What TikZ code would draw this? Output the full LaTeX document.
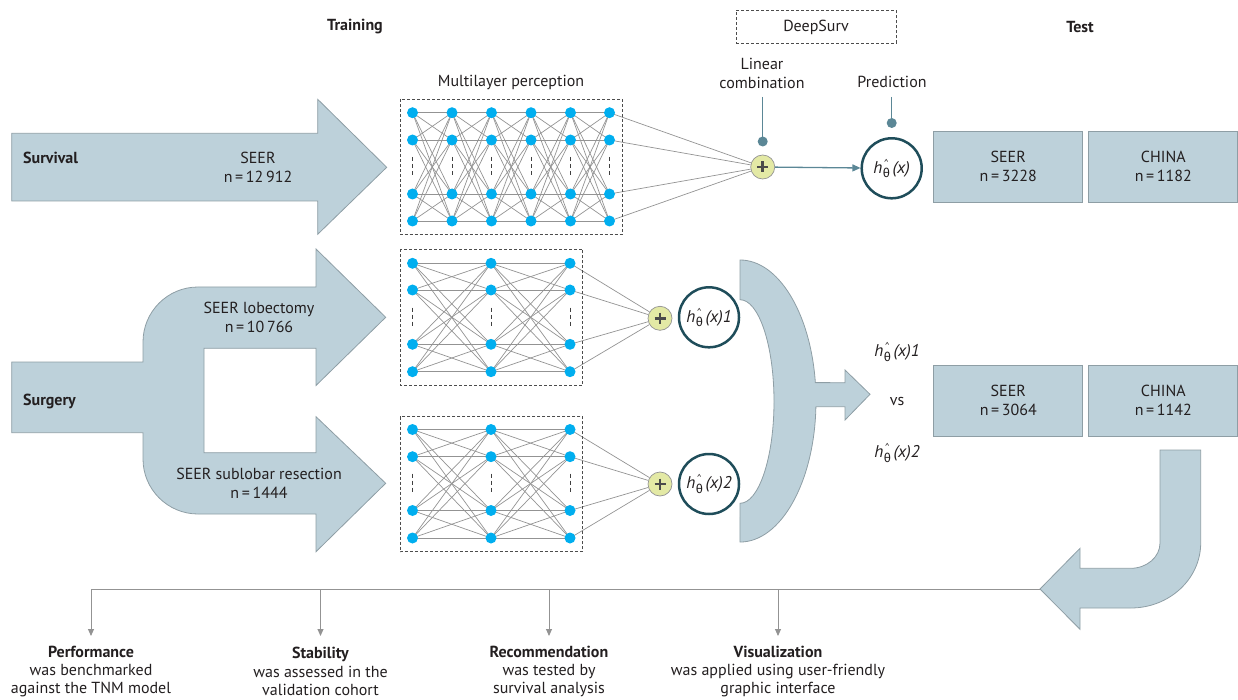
\documentclass[tikz,border=0pt]{standalone}
\usepackage{fontspec}
\setmainfont{PT Sans}
\newfontfamily\greekfont{Fira Sans}
\usetikzlibrary{arrows.meta,backgrounds}
\definecolor{arrowfill}{HTML}{BDD1DA}
\definecolor{arrowline}{HTML}{8E9EA5}
\definecolor{neuroncol}{HTML}{00AEEF}
\definecolor{conn}{HTML}{939393}
\definecolor{sumfill}{HTML}{E3E9A5}
\definecolor{darkteal}{HTML}{1F4D5A}
\definecolor{pincol}{HTML}{5B8796}
\definecolor{txt}{HTML}{231F20}
\definecolor{plusgray}{HTML}{4A4A4A}
\newcommand{\hth}[1]{{\fontsize{17}{17}\selectfont\textit{h}\kern0.5pt\rlap{\raisebox{7pt}{\fontsize{10}{10}\selectfont\kern1pt\textasciicircum}}\raisebox{-4.5pt}{\fontsize{12.5}{12.5}\selectfont\greekfont θ}\kern2.5pt\textit{(x)#1}}}
\begin{document}
\begin{tikzpicture}[x=1pt,y=-1pt,
  every node/.style={text=txt},
  font=\fontsize{16}{19}\selectfont,
  bigarrow/.style={fill=arrowfill, draw=arrowline, line width=0.8pt},
  neuron/.style={circle, fill=neuroncol, inner sep=0pt, minimum size=11pt},
  edge/.style={draw=conn, line width=0.7pt},
  dashline/.style={draw=black!75, line width=0.9pt, dash pattern=on 4pt off 3pt},
  mlpbox/.style={draw=black!70, dash pattern=on 3pt off 2pt, line width=0.8pt},
  sumnode/.style={circle, fill=sumfill, draw=conn, line width=0.7pt, minimum size=24pt, inner sep=0pt},
  outcircle/.style={circle, draw=darkteal, line width=2.5pt, minimum size=60pt, inner sep=0pt},
  testbox/.style={rectangle, fill=arrowfill, draw=arrowline, line width=0.8pt, minimum width=149pt, minimum height=71pt, align=center, inner sep=0pt},
  pinline/.style={draw=pincol, line width=1.3pt},
  gline/.style={draw=conn, line width=0.9pt},
  garrow/.style={draw=conn, line width=0.9pt, -{Triangle[width=6pt,length=7pt]}},
  plain/.style={inner sep=0pt, align=center},
  headtext/.style={inner sep=0pt, font=\fontsize{16}{19}\selectfont\bfseries},
  bottomtext/.style={inner sep=0pt, align=center, font=\fontsize{16}{18.3}\selectfont}
]
\useasboundingbox (0,0) rectangle (1238,700);

% ---------- headings ----------
\node[headtext] (training) at (355,27) {Training};
\node[plain, draw=black!70, dash pattern=on 3pt off 2pt, line width=0.8pt, minimum width=160pt, minimum height=33pt] (deepsurv) at (816,27) {DeepSurv};
\node[headtext] (test) at (1080,27) {Test};
\node[plain] (mlptitle) at (511,82) {Multilayer perception};
\node[plain] (lincomb) at (762,73) {Linear\\combination};
\node[plain] (predtitle) at (892,82) {Prediction};

% ---------- survival arrow ----------
\draw[bigarrow] (11.7,133.3) -- (317.7,133.3) -- (317.7,99.3) -- (386.7,167.3) -- (317.7,234.3) -- (317.7,201) -- (11.7,201) -- cycle;
\node[headtext, anchor=west] (survival) at (23,158) {Survival};
\node[plain] (seer1) at (258,167) {SEER\\n\,=\,12\,912};

% ---------- surgery arrow ----------
\draw[bigarrow] (11.7,362) -- (143,362) -- (143,342) arc[start angle=180,end angle=270,radius=55] -- (316,287) -- (316,249) -- (385.7,317.3) -- (316,385.5) -- (316,348.3) -- (204,348.3) -- (204,452.7) -- (316,452.7) -- (316,416.7) -- (385.7,483.3) -- (316,551.7) -- (316,514) -- (198,514) arc[start angle=90,end angle=180,radius=55] -- (143,432.7) -- (11.7,432.7) -- cycle;
\node[headtext, anchor=west] (surgery) at (23,401) {Surgery};
\node[plain] (seerlob) at (259,317) {SEER lobectomy\\n\,=\,10\,766};
\node[plain] (seersub) at (259,483) {SEER sublobar resection\\n\,=\,1444};

% ---------- MLP 1 (top) ----------
\draw[mlpbox] (400,99) rectangle (622,234.5);
\foreach \i/\x in {1/412.5,2/452,3/491.5,4/531,5/570.5,6/609.5}{
  \foreach \j/\y in {1/112.7,2/140,3/194,4/221}{
    \node[neuron] (a-\i-\j) at (\x,\y) {};
  }
  \draw[dashline] (\x,157) -- (\x,177);
}
% ---------- MLP 2 ----------
\draw[mlpbox] (400,249) rectangle (582.5,385);
\foreach \i/\x in {1/412.5,2/491,3/570}{
  \foreach \j/\y in {1/263.3,2/290,3/344.3,4/371.7}{
    \node[neuron] (b-\i-\j) at (\x,\y) {};
  }
  \draw[dashline] (\x,307.5) -- (\x,327.5);
}
% ---------- MLP 3 ----------
\draw[mlpbox] (400,416.5) rectangle (582.5,551.7);
\foreach \i/\x in {1/412.5,2/491,3/570}{
  \foreach \j/\y in {1/429.5,2/456.7,3/510.5,4/538}{
    \node[neuron] (c-\i-\j) at (\x,\y) {};
  }
  \draw[dashline] (\x,473.5) -- (\x,493.5);
}

% ---------- sum nodes and outputs ----------
\node[sumnode] (s1) at (762.7,167) {};
\node[sumnode] (s2) at (660,318.3) {};
\node[sumnode] (s3) at (660,484) {};
\foreach \s in {s1,s2,s3}{
  \draw[plusgray, line width=2.8pt] (\s.center) ++(-5.5,0) -- ++(11,0);
  \draw[plusgray, line width=2.8pt] (\s.center) ++(0,-5.5) -- ++(0,11);
}
\node[outcircle] (c1) at (891.7,168.3) {\hth{}};
\node[outcircle] (c2) at (709,317.3) {\hth{1}};
\node[outcircle] (c3) at (709,484) {\hth{2}};

% edges on background
\begin{scope}[on background layer]
\foreach \i in {1,...,5}{
  \pgfmathtruncatemacro\k{\i+1}
  \foreach \j in {1,...,4}{
    \foreach \m in {1,...,4}{
      \draw[edge] (a-\i-\j.center) -- (a-\k-\m.center);
    }
  }
}
\foreach \i in {1,2}{
  \pgfmathtruncatemacro\k{\i+1}
  \foreach \j in {1,...,4}{
    \foreach \m in {1,...,4}{
      \draw[edge] (b-\i-\j.center) -- (b-\k-\m.center);
      \draw[edge] (c-\i-\j.center) -- (c-\k-\m.center);
    }
  }
}
\foreach \j in {1,...,4}{
  \draw[edge] (a-6-\j.center) -- (s1);
  \draw[edge] (b-3-\j.center) -- (s2);
  \draw[edge] (c-3-\j.center) -- (s3);
}
\end{scope}

% pins
\coordinate (pin1top) at (762.7,97);
\coordinate (pin1dot) at (762.7,141.5);
\coordinate (pin2top) at (891.7,97);
\coordinate (pin2dot) at (891.7,123);
\draw[pinline] (pin1top) -- (pin1dot);
\fill[pincol] (pin1dot) circle (5);
\draw[pinline] (pin2top) -- (pin2dot);
\fill[pincol] (pin2dot) circle (5);
\draw[pinline, -{Triangle[width=7pt,length=8pt]}] (s1) -- (c1);

% ---------- crescent arrow ----------
\draw[bigarrow] (740,260) arc[start angle=270,end angle=352.5,x radius=76,y radius=141] -- (845,382.7) -- (845,370) -- (870,394.3) -- (845,420) -- (845,406.7) -- (815.9,406.7) arc[start angle=2.3,end angle=90,x radius=76,y radius=141] -- (740,503.3) arc[start angle=90,end angle=-90,x radius=34,y radius=101.8] -- cycle;

\node[plain] (h1) at (897,352) {\hth{1}};
\node[plain] (vs) at (897,401) {vs};
\node[plain] (h2) at (897,453) {\hth{2}};

% ---------- test boxes ----------
\node[testbox] (seert1) at (1008.2,166.5) {SEER\\n\,=\,3228};
\node[testbox] (chinat1) at (1163.3,166.5) {CHINA\\n\,=\,1182};
\node[testbox] (seert2) at (1008.3,400.7) {SEER\\n\,=\,3064};
\node[testbox] (chinat2) at (1163.3,400.7) {CHINA\\n\,=\,1142};

% ---------- U-turn arrow ----------
\draw[bigarrow] (1160,450) -- (1200.7,450) -- (1200.7,543) arc[start angle=0,end angle=90,x radius=70,y radius=65] -- (1080,608) -- (1080,629.3) -- (1040,589) -- (1080,548.3) -- (1080,568.3) -- (1130.7,568.3) arc[start angle=90,end angle=0,x radius=29.3,y radius=25.3] -- cycle;

% ---------- bottom outcomes ----------
\coordinate (utip) at (1040,589);
\coordinate (j1) at (91,589);
\coordinate (j2) at (320.5,589);
\coordinate (j3) at (549,589);
\coordinate (j4) at (778,589);
\coordinate (e1) at (91,636);
\coordinate (e2) at (320.5,636);
\coordinate (e3) at (549,636);
\coordinate (e4) at (778,636);
\draw[gline] (utip) -- (j1);
\draw[garrow] (j1) -- (e1);
\draw[garrow] (j2) -- (e2);
\draw[garrow] (j3) -- (e3);
\draw[garrow] (j4) -- (e4);

\node[bottomtext] (perf) at (91,671.5) {\textbf{Performance}\\was benchmarked\\against the TNM model};
\node[bottomtext] (stab) at (320.5,671.5) {\textbf{Stability}\\was assessed in the\\validation cohort};
\node[bottomtext] (reco) at (549,671.5) {\textbf{Recommendation}\\was tested by\\survival analysis};
\node[bottomtext] (visu) at (778,671.5) {\textbf{Visualization}\\was applied using user-friendly\\graphic interface};
\end{tikzpicture}
\end{document}
